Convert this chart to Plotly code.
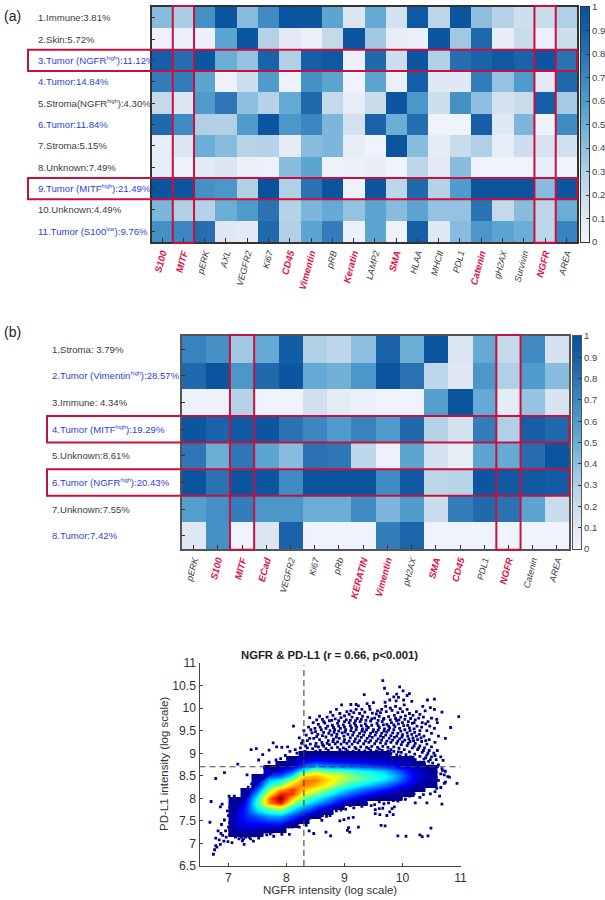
import plotly.graph_objects as go

W, H = 605, 900
def xf(p): return p / W
def yf(p): return 1 - p / H

RED = "#e0104c"
RECT = "#c8103f"
BLUE_TXT = "#2a3fe0"
GRAY_TXT = "#3c3c3c"

BLUES = [[0, "#f1f4fc"], [.1, "#dfe8f4"], [.2, "#c9dcec"], [.3, "#b1d0e6"], [.4, "#8ebfe0"],
         [.5, "#6aaed6"], [.6, "#4f9bcb"], [.7, "#3c87c1"], [.8, "#2a72b2"], [.9, "#165fa8"], [1, "#08519c"]]

HI = '<sup><span style="font-size:5.5px">%s</span></sup>'

# ---------- panel (a) ----------
a_cols = ["S100", "MITF", "pERK", "AXL", "VEGFR2", "Ki67", "CD45", "Vimentin", "pRB", "Keratin",
          "LAMP2", "SMA", "HLAA", "MHCII", "PDL1", "Catenin", "gH2AX", "Survivin", "NGFR", "AREA"]
a_red = ["S100", "MITF", "CD45", "Vimentin", "Keratin", "SMA", "Catenin", "NGFR"]
a_rows = ["1.Immune:3.81%", "2.Skin:5.72%", "3.Tumor (NGFR" + HI % "high" + "):11.12%", "4.Tumor:14.84%",
          "5.Stroma(NGFR" + HI % "high" + "):4.30%", "6.Tumor:11.84%", "7.Stroma:5.15%", "8.Unknown:7.49%",
          "9.Tumor (MITF" + HI % "high" + "):21.49%", "10.Unknown:4.49%", "11.Tumor (S100" + HI % "low" + "):9.76%"]
a_blue_rows = [2, 3, 5, 8, 10]
a_vals = [
    [.42, .32, .65, .97, .42, .68, .97, .97, .55, .12, .52, .15, .95, .25, .98, .40, .28, .18, .20, .30],
    [.02, .03, .03, .55, .97, .28, .08, .03, .22, .97, .35, .05, .03, .97, .35, .85, .05, .20, .03, .18],
    [.90, .82, .97, .50, .38, .88, .30, .90, .95, .03, .85, .18, .97, .30, .82, .88, .95, .88, .97, .80],
    [.75, .75, .55, .02, .18, .60, .02, .65, .55, .01, .55, .04, .90, .10, .10, .75, .38, .60, .08, .85],
    [.22, .12, .60, .78, .40, .28, .52, .85, .22, .06, .20, .97, .62, .18, .65, .40, .15, .20, .90, .33],
    [.85, .68, .30, .30, .60, .97, .62, .70, .45, .15, .88, .50, .82, .01, .01, .90, .10, .45, .02, .68],
    [.05, .12, .50, .42, .27, .28, .07, .42, .45, .06, .01, .98, .42, .07, .20, .30, .06, .18, .14, .17],
    [.05, .02, .08, .12, .03, .02, .42, .55, .02, .03, .05, .01, .25, .08, .42, .01, .01, .01, .05, .01],
    [.98, .97, .65, .62, .30, 1.0, .30, .80, .98, .02, .97, .25, .85, .28, .60, .98, .98, .98, .42, .97],
    [.45, .30, .28, .50, .60, .80, .28, .45, .52, .38, .55, .42, .55, .38, .38, .80, .22, .42, .25, .50],
    [.65, .70, .82, .10, .08, .85, .30, .55, .75, .03, .55, .02, .90, .10, .42, .62, .55, .50, .25, .72],
]
a_hl_cols = ["MITF", "NGFR"]
a_hl_rows = [2, 8]

# ---------- panel (b) ----------
b_cols = ["pERK", "S100", "MITF", "ECad", "VEGFR2", "Ki67", "pRb", "KERATIN", "Vimentin", "pH2AX",
          "SMA", "CD45", "PDL1", "NGFR", "Catenin", "AREA"]
b_red = ["S100", "MITF", "ECad", "KERATIN", "Vimentin", "SMA", "CD45", "NGFR"]
b_rows = ["1.Stroma: 3.79%", "2.Tumor (Vimentin" + HI % "high" + "):28.57%", "3.Immune: 4.34%",
          "4.Tumor (MITF" + HI % "high" + "):19.29%", "5.Unknown:8.61%", "6.Tumor (NGFR" + HI % "high" + "):20.43%",
          "7.Unknown:7.55%", "8.Tumor:7.42%"]
b_blue_rows = [1, 3, 5, 7]
b_vals = [
    [.72, .65, .35, .52, .92, .30, .25, .40, .88, .50, .97, .12, .52, .22, .68, .15],
    [.85, .98, .62, .85, .97, .52, .48, .62, .98, .80, .25, .10, .62, .30, .60, .42],
    [.02, .02, .28, .01, .01, .17, .07, .03, .01, .01, .58, .98, .52, .07, .38, .13],
    [.97, .88, .95, .97, .80, .70, .60, .72, .60, .85, .28, .15, .75, .30, .90, .85],
    [.78, .50, .78, .55, .42, .80, .78, .25, .02, .55, .15, .05, .55, .52, .82, .98],
    [.98, .80, .98, .97, .68, .98, .98, .98, .68, .95, .25, .27, .97, .95, .95, .92],
    [.58, .65, .75, .62, .62, .50, .50, .68, .45, .60, .20, .75, .85, .80, .55, .20],
    [.10, .65, .01, .12, .88, .01, .01, .01, .75, .87, .01, .01, .01, .01, .01, .01],
]
b_hl_cols = ["MITF", "NGFR"]
b_hl_rows = [3, 5]

# ---------- panel (c): density: x -> (lowest y, values going up in 0.1 steps) ----------
dens_y = [round(6.8 + .1 * i, 1) for i in range(23)]
dens_x = [7.1, 7.3, 7.5, 7.7, 7.9, 8.1, 8.3, 8.5, 8.7, 8.9, 9.1, 9.3, 9.5, 9.7, 9.9, 10.1, 10.3, 10.5]
dens_cols = [
    (7.2, [0, .02, .05, .06, .06, .05, .03, .01, 0]),
    (7.2, [0, .05, .08, .12, .14, .15, .14, .12, .08, .04, 0]),
    (7.2, [0, .05, .09, .14, .20, .30, .38, .42, .38, .30, .20, .12, .06, 0]),
    (7.3, [0, .10, .17, .27, .38, .55, .78, .80, .65, .52, .40, .30, .18, .10, 0]),
    (7.3, [0, .11, .17, .27, .42, .62, .90, 1.0, .90, .72, .50, .36, .20, .10, .03, 0]),
    (7.4, [0, .10, .17, .27, .40, .55, .70, .85, .85, .72, .55, .36, .20, .10, .03, 0]),
    (7.5, [0, .10, .17, .27, .38, .50, .60, .72, .80, .78, .68, .42, .22, .11, .05, 0]),
    (7.6, [0, .10, .17, .28, .38, .50, .62, .72, .78, .72, .55, .32, .15, .07, 0]),
    (7.7, [0, .10, .18, .28, .38, .50, .62, .68, .64, .48, .27, .13, .05, 0]),
    (7.8, [0, .11, .18, .28, .38, .50, .58, .60, .46, .26, .12, .05, 0]),
    (7.9, [0, .13, .20, .30, .40, .50, .52, .42, .24, .11, .04, 0]),
    (7.9, [0, .07, .15, .23, .34, .44, .46, .38, .22, .10, .04, 0]),
    (8.0, [0, .10, .18, .28, .38, .42, .34, .20, .09, .03, 0]),
    (8.0, [0, .06, .13, .22, .32, .36, .30, .17, .07, .02, 0]),
    (8.0, [0, .03, .08, .15, .24, .27, .22, .12, .05, 0]),
    (8.1, [0, .04, .09, .13, .15, .12, .07, .03, 0]),
    (8.2, [0, .03, .05, .06, .05, .03, 0]),
    (8.3, [0, .02, .03, .02, 0]),
]

def pad_col(first_y, values):
    lead = round((first_y - dens_y[0]) / .1)
    return [None] * lead + values + [None] * (len(dens_y) - lead - len(values))

dens_z = [list(r) for r in zip(*[pad_col(fy, v) for fy, v in dens_cols])]

# individual dots (NGFR, PD-L1)
dots = [
 (9.66,10.61),(9.69,10.44),(9.95,10.47),(10.01,10.38),(9.74,10.32),(10.12,10.32),(10.08,10.28),(9.34,10.30),
 (9.90,10.31),(9.85,10.25),(9.93,10.24),(10.02,10.18),(9.78,10.18),(9.89,10.16),(10.16,10.15),(10.43,10.18),
 (10.55,10.20),(9.70,10.13),(8.95,10.07),(9.11,10.08),(9.20,10.08),(9.24,10.05),(9.39,10.10),(9.50,10.12),
 (9.43,10.04),(9.71,10.04),(9.88,10.04),(10.03,10.07),(10.35,10.04),(10.48,10.01),(10.55,9.97),(10.68,9.91),
 (10.97,9.81),(10.83,9.57),(10.74,9.33),(8.12,9.60),(8.40,9.79),(8.57,9.82),(8.76,9.91),(8.86,9.97),
 (9.04,9.92),(9.11,9.94),(9.20,9.97),(9.30,9.97),(9.44,9.97),(9.57,9.94),(9.64,9.97),(9.79,10.00),
 (9.96,9.99),(10.08,9.97),(10.24,9.92),(10.39,9.94),(10.59,9.75),(10.60,9.68),(10.50,9.78),(10.44,9.70),
 (8.62,9.75),(8.70,9.80),(8.80,9.84),(8.92,9.88),(9.00,9.83),(9.08,9.86),(9.16,9.90),(9.26,9.88),(9.35,9.91),
 (9.48,9.89),(9.55,9.87),(9.62,9.90),(9.72,9.92),(9.82,9.95),(9.92,9.90),(10.00,9.92),(10.12,9.88),(10.18,9.84),
 (10.30,9.86),(10.36,9.80),(8.46,9.68),(8.55,9.64),(8.66,9.67),(8.74,9.72),(8.84,9.76),(8.94,9.79),(9.03,9.74),
 (9.13,9.80),(9.22,9.77),(9.31,9.82),(9.40,9.80),(9.52,9.78),(9.60,9.82),(9.68,9.77),(9.76,9.81),(9.86,9.84),
 (9.97,9.80),(10.05,9.83),(10.14,9.77),(10.22,9.74),(10.28,9.78),(10.40,9.65),(10.47,9.60),(10.55,9.55),
 (8.30,9.50),(8.38,9.58),(8.49,9.55),(8.60,9.52),(8.71,9.60),(8.79,9.62),(8.88,9.66),(8.98,9.63),(9.08,9.68),
 (9.17,9.66),(9.27,9.70),(9.36,9.65),(9.45,9.71),(9.56,9.66),(9.65,9.70),(9.73,9.64),(9.81,9.68),(9.90,9.72),
 (10.00,9.68),(10.09,9.62),(10.17,9.66),(10.25,9.60),(10.33,9.58),(10.42,9.50),(10.50,9.44),(10.62,9.38),
 (8.22,9.34),(8.34,9.40),(8.44,9.45),(8.54,9.42),(8.64,9.46),(8.75,9.50),(8.83,9.52),(8.93,9.55),(9.02,9.52),
 (9.12,9.56),(9.21,9.58),(9.31,9.54),(9.41,9.57),(9.50,9.52),(9.60,9.57),(9.69,9.54),(9.78,9.56),(9.87,9.59),
 (9.95,9.55),(10.04,9.52),(10.13,9.50),(10.21,9.46),(10.29,9.42),(10.37,9.38),(10.46,9.30),(10.56,9.24),
 (8.26,9.22),(8.36,9.28),(8.47,9.33),(8.57,9.30),(8.68,9.36),(8.78,9.40),(8.87,9.42),(8.96,9.45),(9.06,9.42),
 (9.16,9.46),(9.26,9.44),(9.35,9.47),(9.45,9.44),(9.55,9.46),(9.64,9.44),(9.73,9.47),(9.83,9.45),(9.92,9.44),
 (10.00,9.41),(10.09,9.38),(10.18,9.34),(10.26,9.30),(10.33,9.26),(10.42,9.20),(10.50,9.14),(10.60,9.06),
 (8.33,9.16),(8.41,9.20),(8.51,9.22),(8.61,9.24),(8.72,9.28),(8.81,9.31),(8.91,9.33),(9.00,9.30),(9.10,9.34),
 (9.19,9.32),(9.29,9.35),(9.39,9.33),(9.48,9.35),(9.58,9.32),(9.67,9.35),(9.77,9.33),(9.86,9.35),(9.95,9.32),
 (10.04,9.29),(10.13,9.26),(10.22,9.22),(10.30,9.16),(10.38,9.12),(10.46,9.06),(10.54,9.00),(10.66,8.92),
 (8.45,9.10),(8.55,9.14),(8.64,9.16),(8.74,9.19),(8.84,9.21),(8.94,9.20),(9.04,9.22),(9.13,9.20),(9.23,9.23),
 (9.33,9.21),(9.42,9.24),(9.52,9.21),(9.62,9.23),(9.71,9.21),(9.80,9.24),(9.90,9.22),(9.98,9.19),(10.08,9.17),
 (10.17,9.12),(10.26,9.08),(10.34,9.02),(10.42,8.96),(10.50,8.92),(10.58,8.86),(10.70,8.84),(10.62,8.74),
 (8.40,9.02),(8.50,9.04),(8.58,9.06),(8.68,9.10),(8.78,9.12),(8.88,9.13),(8.98,9.12),(9.08,9.14),(9.18,9.13),
 (9.28,9.14),(9.38,9.13),(9.47,9.15),(9.57,9.13),(9.66,9.15),(9.75,9.13),(9.85,9.14),(9.94,9.11),(10.03,9.08),
 (10.12,9.03),(10.21,8.98),(10.30,8.93),(10.37,8.87),(10.45,8.82),(10.52,8.78),(10.60,8.70),(10.68,8.66),
 (10.74,8.60),(10.78,8.48),(10.72,8.52),(10.66,8.54),(10.58,8.58),(10.52,8.66),(10.46,8.72),(10.38,8.76),
 (10.30,8.80),(10.22,8.86),(10.14,8.92),(10.06,8.97),(9.98,9.02),(10.58,8.46),(10.62,8.40),(10.52,8.38),
 (10.44,8.32),(10.36,8.25),(10.28,8.18),(10.20,8.10),(10.12,8.05),(10.05,7.98),(9.98,8.00),(9.92,7.94),
 (9.84,7.95),(9.76,7.90),(9.68,7.88),(9.60,7.92),(9.52,7.86),(9.46,7.84),(9.38,7.88),(9.30,7.82),(9.24,7.86),
 (9.16,7.79),(9.10,7.84),(9.02,7.76),(8.94,7.74),(8.86,7.72),(8.78,7.70),(8.70,7.66),(8.62,7.62),(8.54,7.60),
 (8.44,7.58),(8.36,7.50),(8.30,7.55),(8.20,7.45),(8.12,7.40),(8.04,7.36),(7.95,7.32),(7.85,7.27),(7.75,7.25),
 (7.66,7.19),(7.58,7.22),(7.52,7.12),(7.45,7.17),(7.38,7.10),(7.30,7.14),(7.24,7.06),(7.18,7.10),(7.10,7.18),
 (7.02,7.20),(6.96,7.14),(6.92,7.05),(6.86,6.98),(6.80,6.92),(6.76,6.86),(6.74,6.76),(6.78,6.95),(6.84,7.08),
 (6.90,7.18),(6.95,7.28),(7.00,7.36),(7.04,7.44),(6.88,7.42),(7.06,7.54),(7.02,7.62),(7.07,7.70),(7.10,7.80),
 (7.14,7.90),(7.18,8.00),(7.24,8.08),(7.28,8.18),(7.34,8.25),(7.40,8.32),(7.46,8.40),(7.54,8.46),(7.62,8.52),
 (7.68,8.58),(7.76,8.64),(7.84,8.70),(7.92,8.76),(8.00,8.80),(8.08,8.86),(8.16,8.90),(8.24,8.96),(8.32,9.04),
 (7.39,9.08),(7.48,9.10),(7.77,9.23),(7.59,8.97),(7.70,9.07),(7.83,9.14),(7.92,9.13),(8.02,9.14),(7.52,8.85),
 (7.16,8.76),(7.32,8.52),(6.93,8.57),(6.78,8.44),(6.70,7.93),(6.68,7.47),(7.10,8.05),(7.01,8.05),(6.89,7.87),
 (6.86,7.81),(7.02,7.80),(6.98,7.72),(7.00,7.62),(6.93,7.52),(6.82,7.28),(6.87,7.22),(6.99,7.04),(7.06,7.02),
 (6.78,7.12),(7.27,6.98),(7.43,7.05),(7.50,7.30),(7.62,8.68),(7.70,8.80),(7.82,8.85),(7.98,8.95),(8.06,9.04),
 (8.15,9.08),(8.02,8.88),(7.90,8.88),(8.18,9.00),(8.24,9.12),
 (8.68,7.25),(8.76,7.17),(9.07,7.35),(9.05,7.29),(9.09,7.25),(9.24,7.36),(9.63,7.40),(9.70,7.39),(9.92,7.17),
 (10.06,7.16),(10.30,7.19),(10.34,7.15),(10.44,7.17),(10.49,7.34),(8.92,7.50),(8.99,7.53),(9.07,7.56),(9.15,7.58),
 (8.61,7.51),(8.69,7.60),(8.75,7.62),(9.53,7.66),(9.61,7.64),(9.73,7.62),(9.84,7.64),(9.53,7.75),(9.60,7.77),
 (9.66,7.78),(9.82,7.77),(9.86,7.81),(9.78,7.70),(10.22,7.90),(10.42,7.90),(10.68,7.87),(10.64,8.05),(10.94,8.33),
 (10.81,8.47),(10.69,8.62),(10.59,8.22),(10.72,8.33),(10.74,8.36),(10.52,8.29),(8.34,7.40),(8.39,7.28),(8.22,7.36),
 (8.47,7.22),(8.05,7.20),(7.92,7.20),(7.78,7.16),(10.30,8.02),(10.36,8.08),(10.48,8.10),(10.56,8.15),(10.66,8.24),
 (8.85,9.00),(8.95,9.03),(9.05,9.05),(9.15,9.04),(9.25,9.06),(9.35,9.05),(9.45,9.06),(9.55,9.05),(9.65,9.06),
 (9.75,9.05),(9.85,9.04),(9.93,9.03),
 # fill between the rows of the upper cloud
 (8.28,9.28),(8.40,9.33),(8.52,9.37),(8.62,9.39),(8.73,9.44),(8.82,9.46),(8.90,9.49),(9.01,9.47),(9.11,9.50),
 (9.20,9.52),(9.30,9.49),(9.38,9.52),(9.49,9.48),(9.58,9.51),(9.68,9.49),(9.76,9.51),(9.85,9.52),(9.97,9.49),
 (10.08,9.45),(10.16,9.42),(10.24,9.38),(10.32,9.34),(10.40,9.28),(8.58,9.58),(8.68,9.55),(8.81,9.57),(8.90,9.60),
 (9.00,9.58),(9.10,9.61),(9.19,9.62),(9.29,9.61),(9.38,9.60),(9.47,9.62),(9.58,9.61),(9.67,9.63),(9.76,9.60),
 (9.85,9.63),(9.93,9.65),(10.02,9.61),(10.12,9.56),(10.20,9.54),(10.30,9.50),(8.52,9.74),(8.64,9.70),(8.78,9.73),
 (8.90,9.72),(9.00,9.70),(9.10,9.73),(9.19,9.72),(9.29,9.75),(9.37,9.73),(9.47,9.76),(9.58,9.73),(9.67,9.75),
 (9.79,9.74),(9.88,9.77),(9.94,9.74),(10.04,9.75),(10.10,9.70),(10.20,9.68),(10.34,9.68),(8.42,9.52),(8.50,9.48),
 (8.36,9.12),(8.50,9.16),(8.62,9.19),(8.70,9.22),(8.80,9.26),(8.88,9.25),(8.99,9.25),(9.08,9.27),(9.17,9.26),
 (9.26,9.28),(9.36,9.27),(9.45,9.28),(9.55,9.27),(9.64,9.29),(9.73,9.27),(9.83,9.29),(9.92,9.27),(10.00,9.25),
 (10.10,9.22),(10.20,9.16),(10.28,9.12),(10.36,9.06),(10.44,9.00),(10.56,8.95),(10.48,8.86),(10.40,8.90),
 (8.86,9.36),(8.99,9.38),(9.14,9.40),(9.23,9.38),(9.33,9.40),(9.43,9.38),(9.53,9.40),(9.62,9.38),(9.71,9.40),
 (9.80,9.39),(9.90,9.38),(9.99,9.36),(10.11,9.32),(10.19,9.28),
 # fringe along the edge of the dense band
 (7.02,7.30),(7.05,7.22),(7.08,7.30),(7.12,7.14),(7.15,7.22),(7.18,7.17),(7.22,7.14),(7.26,7.10),(7.26,7.20),
 (7.32,7.18),(7.36,7.14),(7.40,7.20),(7.44,7.24),(7.48,7.20),(7.53,7.25),(7.56,7.18),(7.60,7.28),(7.64,7.25),
 (7.69,7.29),(7.72,7.21),(7.78,7.30),(7.82,7.33),(7.88,7.30),(7.92,7.36),(7.97,7.39),(8.02,7.42),(8.07,7.45),
 (8.10,7.36),(8.16,7.48),(8.14,7.42),(8.24,7.53),(8.27,7.50),(8.34,7.58),(8.39,7.55),(8.43,7.63),(8.48,7.60),
 (8.53,7.66),(8.58,7.70),(8.65,7.72),(8.72,7.74),(8.82,7.77),(8.90,7.80),(8.98,7.82),(9.06,7.87),(9.14,7.90),
 (9.22,7.94),(9.32,7.97),(9.42,7.98),(9.50,8.00),(9.58,8.03),(9.66,8.05),(9.74,8.06),(9.82,8.08),(9.90,8.10),
 (9.96,8.14),(10.02,8.12),(10.08,8.18),(10.16,8.20),(10.22,8.24),(10.28,8.28),(10.34,8.32),(10.40,8.36),(10.46,8.42),
 (10.52,8.48),(10.56,8.52),(10.48,8.56),(10.42,8.62),(10.36,8.68),(10.30,8.72),(10.24,8.78),(10.18,8.82),
 (10.12,8.86),(10.04,8.90),(9.96,8.94),(7.02,7.46),(7.05,7.60),(7.08,7.50),(7.10,7.66),(7.12,7.74),(7.16,7.84),
 (7.15,7.78),(7.20,7.92),(7.22,7.86),(7.24,7.98),(7.30,8.06),(7.28,8.00),(7.34,8.12),(7.38,8.20),(7.36,8.14),
 (7.42,8.26),(7.46,8.30),(7.50,8.36),(7.55,8.40),(7.60,8.44),(7.66,8.50),(7.72,8.54),(7.78,8.60),(7.82,8.64),
 (7.88,8.68),(7.94,8.70),(8.00,8.74),(8.06,8.78),(8.12,8.80),(8.18,8.84),(8.24,8.88),(8.30,8.92),(8.36,8.96),
 (8.44,8.98),(8.52,9.00),(8.62,9.02),(8.72,9.06),(8.76,9.02),
 # granular band just above the solid part of the cloud
 (8.80,8.98),(8.90,8.96),(9.00,8.99),(9.10,8.97),(9.20,9.00),(9.30,8.98),(9.40,9.00),(9.50,8.98),(9.60,9.00),
 (9.70,8.97),(9.80,8.99),(9.90,8.97),(8.58,8.96),(8.68,8.98),(8.46,8.92),(8.92,9.08),(9.02,9.09),(9.20,9.10),
 (9.42,9.10),(9.60,9.09),(9.80,9.08),
]
dot_x = [d[0] for d in dots]
dot_y = [d[1] for d in dots]
c_vline_x = 8.3
c_hline_y = 8.7

JET = [[0, "#00008f"], [.11, "#0000ff"], [.36, "#00ffff"], [.5, "#80ff80"], [.63, "#ffff00"],
       [.75, "#ffa000"], [.87, "#ff2000"], [1, "#800000"]]

cbar_ticks = [0, .1, .2, .3, .4, .5, .6, .7, .8, .9, 1]
cbar_labels = ["0", "0.1", "0.2", "0.3", "0.4", "0.5", "0.6", "0.7", "0.8", "0.9", "1"]
cbar_ramp_y = [i / 100 for i in range(101)]

def col_tick(name, red_names):
    if name in red_names:
        return f'<span style="color:{RED}"><b><i>{name}</i></b></span>'
    return f'<span style="color:#3c3c3c;font-size:9px"><i>{name}</i></span>'

fig = go.Figure()

def heat_panel(vals, cols, red, rows, blue_rows, hl_cols, hl_rows, n, box, cbar, label_x, hl_left, hl_right, border, tsize):
    L, T, R, B = box
    xname, yname = f"x{n}", f"y{n}"
    cx, cy = f"x{n + 1}", f"y{n + 1}"
    fig.add_trace(go.Heatmap(z=vals, x=list(range(len(cols))), y=list(range(len(rows))), xaxis=xname, yaxis=yname,
                             colorscale=BLUES, zmin=0, zmax=1, showscale=False, hoverinfo="skip"))
    fig.add_trace(go.Heatmap(z=[[v] for v in cbar_ramp_y], x=[0], y=cbar_ramp_y, xaxis=cx, yaxis=cy,
                             colorscale=BLUES, zmin=0, zmax=1, showscale=False, hoverinfo="skip"))
    fig.update_layout({
        f"xaxis{n}": dict(domain=[xf(L), xf(R)], range=[-.5, len(cols) - .5], anchor=yname, automargin=False,
                          tickvals=list(range(len(cols))), ticktext=[col_tick(c, red) for c in cols], tickangle=-75,
                          ticks="inside", ticklen=4, tickcolor="#333", tickwidth=1, showgrid=False, zeroline=False,
                          showline=True, mirror=True, linecolor=border, linewidth=1.5,
                          tickfont=dict(size=tsize, family="Liberation Sans")),
        f"yaxis{n}": dict(domain=[yf(B), yf(T)], range=[len(rows) - .5, -.5], anchor=xname, automargin=False,
                          tickvals=list(range(len(rows))), showticklabels=False,
                          ticks="inside", ticklen=4, tickcolor="#333", tickwidth=1, showgrid=False, zeroline=False,
                          showline=True, mirror=True, linecolor=border, linewidth=1.5),
        f"xaxis{n + 1}": dict(domain=[xf(cbar[0]), xf(cbar[1])], range=[-.5, .5], anchor=cy, showticklabels=False,
                              ticks="", showgrid=False, zeroline=False, showline=True, mirror=True, automargin=False,
                              linecolor=border, linewidth=1.2),
        f"yaxis{n + 1}": dict(domain=[yf(B), yf(T)], range=[0, 1], anchor=cx, side="right", tickvals=cbar_ticks,
                              ticktext=cbar_labels, ticks="inside", ticklen=3, tickcolor="#333", tickwidth=1, automargin=False,
                              showgrid=False, zeroline=False, showline=True, mirror=True, linecolor=border, linewidth=1.2,
                              tickfont=dict(size=9.5, color="#444", family="Liberation Sans")),
    })
    for i, r in enumerate(rows):
        fig.add_annotation(text=r, xref="paper", yref=yname, x=xf(label_x), y=i, xanchor="left", yanchor="middle",
                           showarrow=False, font=dict(size=tsize, family="Liberation Sans",
                                                      color=BLUE_TXT if i in blue_rows else GRAY_TXT))
    lw = 2
    for c in hl_cols:
        j = cols.index(c)
        fig.add_shape(type="rect", xref=xname, yref="paper", x0=j - .5, x1=j + .5, y0=yf(B + .7), y1=yf(T - 1),
                      line=dict(color=RECT, width=lw), fillcolor="rgba(0,0,0,0)", layer="above")
    for i in hl_rows:
        fig.add_shape(type="rect", xref="paper", yref=yname, x0=xf(hl_left), x1=xf(hl_right), y0=i - .5, y1=i + .5,
                      line=dict(color=RECT, width=lw), fillcolor="rgba(0,0,0,0)", layer="above")

heat_panel(a_vals, a_cols, a_red, a_rows, a_blue_rows, a_hl_cols, a_hl_rows, 1, (151.5, 7, 577, 242),
           (580.5, 589), 35.5, 28, 577, "#333", 9.6)
heat_panel(b_vals, b_cols, b_red, b_rows, b_blue_rows, b_hl_cols, b_hl_rows, 3, (181.5, 336, 569, 549),
           (573, 581), 50, 47, 569.5, "#555", 9.6)

# panel (c)
fig.add_trace(go.Heatmap(z=dens_z, x=dens_x, y=dens_y, xaxis="x5", yaxis="y5", colorscale=JET, zmin=0, zmax=1,
                         zsmooth="best", showscale=False, hoverinfo="skip"))
fig.add_trace(go.Scatter(x=dot_x, y=dot_y, xaxis="x5", yaxis="y5", mode="markers", hoverinfo="skip", showlegend=False,
                         marker=dict(symbol="square", size=2.8, color="#00008f", line=dict(width=0))))
AX = dict(showgrid=False, zeroline=False, showline=True, linecolor="#444", linewidth=1, ticks="inside", ticklen=3,
          automargin=False, tickcolor="#444", tickfont=dict(size=12.2, color="#333", family="Liberation Sans"))
fig.update_layout(
    xaxis5=dict(AX, domain=[xf(199.5), xf(460.5)], range=[6.5, 11], anchor="y5", tickvals=[7, 8, 9, 10, 11]),
    yaxis5=dict(AX, domain=[yf(866), yf(663)], range=[6.5, 11], anchor="x5",
                tickvals=[6.5, 7, 7.5, 8, 8.5, 9, 9.5, 10, 10.5, 11], ticktext=["6.5", "7", "7.5", "8", "8.5", "9", "9.5", "10", "10.5", "11"]),
)
for kw in (dict(x0=c_vline_x, x1=c_vline_x, y0=6.5, y1=10.95), dict(x0=6.5, x1=11, y0=c_hline_y, y1=c_hline_y)):
    fig.add_shape(type="line", xref="x5", yref="y5", layer="above", line=dict(color="#444", width=1.1, dash="6px,4px"), **kw)
fig.add_annotation(text="<b>NGFR &amp; PD-L1 (r = 0.66, p&lt;0.001)</b>", xref="paper", yref="paper",
                   x=xf(329.5), y=yf(655), xanchor="center", yanchor="middle", showarrow=False,
                   font=dict(size=11.3, color="#222", family="Liberation Sans"))
fig.add_annotation(text="NGFR intensity (log scale)", xref="paper", yref="paper", x=xf(329.5), y=yf(890),
                   xanchor="center", yanchor="middle", showarrow=False,
                   font=dict(size=11.5, color="#333", family="Liberation Sans"))
fig.add_annotation(text="PD-L1 intensity (log scale)", xref="paper", yref="paper", x=xf(164), y=yf(764), textangle=-90,
                   xanchor="center", yanchor="middle", showarrow=False,
                   font=dict(size=11.5, color="#333", family="Liberation Sans"))
for t, yy in (("(a)", 16), ("(b)", 332)):
    fig.add_annotation(text=t, xref="paper", yref="paper", x=xf(1.5), y=yf(yy), xanchor="left", yanchor="middle",
                       showarrow=False, font=dict(size=14, color="#222", family="Liberation Sans"))

fig.update_layout(width=W, height=H, autosize=False, margin=dict(l=0, r=0, t=0, b=0), paper_bgcolor="white",
                  plot_bgcolor="white", showlegend=False)
fig.write_html("out.html", config=dict(displayModeBar=False), post_script="document.body.style.margin='0';document.documentElement.style.overflow='hidden';")
